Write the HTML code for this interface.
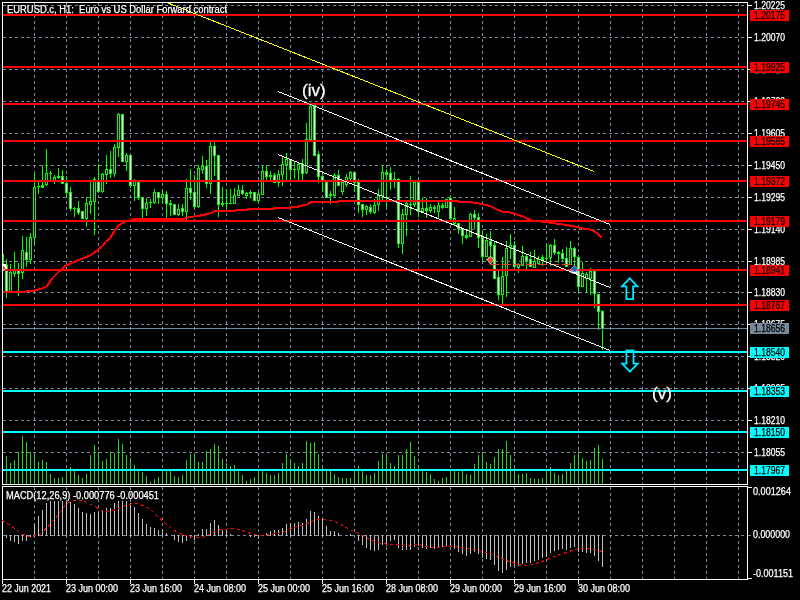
<!DOCTYPE html>
<html><head><meta charset="utf-8"><title>EURUSD.c H1</title>
<style>
html,body{margin:0;padding:0;background:#000;}
body{width:800px;height:600px;overflow:hidden;position:relative;font-family:"Liberation Sans",sans-serif;}
svg{position:absolute;left:0;top:0;display:block}
svg text{white-space:pre;font-family:"Liberation Sans",sans-serif;font-size:10px;}
svg text.big{font-size:17px;stroke:#fff;stroke-width:0.3px;}
svg text.w{stroke:#fff;stroke-width:0.25px;}
svg text.k{stroke:#000;stroke-width:0.25px;}
</style></head><body>
<svg width="800" height="600" viewBox="0 0 800 600" shape-rendering="crispEdges">
<rect width="800" height="600" fill="#000"/>
<g stroke="#778899" stroke-width="1" stroke-dasharray="3 3" fill="none">
<path d="M34.5 3V484M34.5 487V579"/>
<path d="M66.5 3V484M66.5 487V579"/>
<path d="M98.5 3V484M98.5 487V579"/>
<path d="M130.5 3V484M130.5 487V579"/>
<path d="M162.5 3V484M162.5 487V579"/>
<path d="M194.5 3V484M194.5 487V579"/>
<path d="M226.5 3V484M226.5 487V579"/>
<path d="M258.5 3V484M258.5 487V579"/>
<path d="M290.5 3V484M290.5 487V579"/>
<path d="M322.5 3V484M322.5 487V579"/>
<path d="M354.5 3V484M354.5 487V579"/>
<path d="M386.5 3V484M386.5 487V579"/>
<path d="M418.5 3V484M418.5 487V579"/>
<path d="M450.5 3V484M450.5 487V579"/>
<path d="M482.5 3V484M482.5 487V579"/>
<path d="M514.5 3V484M514.5 487V579"/>
<path d="M546.5 3V484M546.5 487V579"/>
<path d="M578.5 3V484M578.5 487V579"/>
<path d="M610.5 3V484M610.5 487V579"/>
<path d="M642.5 3V484M642.5 487V579"/>
<path d="M674.5 3V484M674.5 487V579"/>
<path d="M706.5 3V484M706.5 487V579"/>
<path d="M738.5 3V484M738.5 487V579"/>
<path d="M3 5.5H747"/>
<path d="M3 37.5H747"/>
<path d="M3 69.5H747"/>
<path d="M3 101.5H747"/>
<path d="M3 133.5H747"/>
<path d="M3 165.5H747"/>
<path d="M3 197.5H747"/>
<path d="M3 229.5H747"/>
<path d="M3 261.5H747"/>
<path d="M3 292.5H747"/>
<path d="M3 324.5H747"/>
<path d="M3 356.5H747"/>
<path d="M3 388.5H747"/>
<path d="M3 420.5H747"/>
<path d="M3 452.5H747"/>
<path d="M3 535.5H747"/>
</g>
<g fill="#32cd32">
<rect x="6" y="456" width="1" height="28" fill="#32cd32"/>
<rect x="10" y="463" width="1" height="21" fill="#32cd32"/>
<rect x="14" y="460" width="1" height="24" fill="#32cd32"/>
<rect x="18" y="452" width="1" height="32" fill="#32cd32"/>
<rect x="22" y="436" width="1" height="48" fill="#32cd32"/>
<rect x="26" y="442" width="1" height="42" fill="#32cd32"/>
<rect x="30" y="452" width="1" height="32" fill="#32cd32"/>
<rect x="34" y="454" width="1" height="30" fill="#32cd32"/>
<rect x="38" y="462" width="1" height="22" fill="#32cd32"/>
<rect x="42" y="460" width="1" height="24" fill="#32cd32"/>
<rect x="46" y="462" width="1" height="22" fill="#32cd32"/>
<rect x="50" y="474" width="1" height="10" fill="#32cd32"/>
<rect x="54" y="478" width="1" height="6" fill="#32cd32"/>
<rect x="58" y="478" width="1" height="6" fill="#32cd32"/>
<rect x="62" y="477" width="1" height="7" fill="#32cd32"/>
<rect x="66" y="471" width="1" height="13" fill="#32cd32"/>
<rect x="70" y="467" width="1" height="17" fill="#32cd32"/>
<rect x="74" y="471" width="1" height="13" fill="#32cd32"/>
<rect x="78" y="475" width="1" height="9" fill="#32cd32"/>
<rect x="82" y="478" width="1" height="6" fill="#32cd32"/>
<rect x="86" y="474" width="1" height="10" fill="#32cd32"/>
<rect x="90" y="455" width="1" height="29" fill="#32cd32"/>
<rect x="94" y="445" width="1" height="39" fill="#32cd32"/>
<rect x="98" y="452" width="1" height="32" fill="#32cd32"/>
<rect x="102" y="461" width="1" height="23" fill="#32cd32"/>
<rect x="106" y="459" width="1" height="25" fill="#32cd32"/>
<rect x="110" y="452" width="1" height="32" fill="#32cd32"/>
<rect x="114" y="453" width="1" height="31" fill="#32cd32"/>
<rect x="118" y="439" width="1" height="45" fill="#32cd32"/>
<rect x="122" y="444" width="1" height="40" fill="#32cd32"/>
<rect x="126" y="455" width="1" height="29" fill="#32cd32"/>
<rect x="130" y="458" width="1" height="26" fill="#32cd32"/>
<rect x="134" y="465" width="1" height="19" fill="#32cd32"/>
<rect x="138" y="470" width="1" height="14" fill="#32cd32"/>
<rect x="142" y="472" width="1" height="12" fill="#32cd32"/>
<rect x="146" y="476" width="1" height="8" fill="#32cd32"/>
<rect x="150" y="482" width="1" height="2" fill="#32cd32"/>
<rect x="154" y="479" width="1" height="5" fill="#32cd32"/>
<rect x="158" y="477" width="1" height="7" fill="#32cd32"/>
<rect x="162" y="470" width="1" height="14" fill="#32cd32"/>
<rect x="166" y="470" width="1" height="14" fill="#32cd32"/>
<rect x="170" y="470" width="1" height="14" fill="#32cd32"/>
<rect x="174" y="476" width="1" height="8" fill="#32cd32"/>
<rect x="178" y="477" width="1" height="7" fill="#32cd32"/>
<rect x="182" y="475" width="1" height="9" fill="#32cd32"/>
<rect x="186" y="460" width="1" height="24" fill="#32cd32"/>
<rect x="190" y="454" width="1" height="30" fill="#32cd32"/>
<rect x="194" y="454" width="1" height="30" fill="#32cd32"/>
<rect x="198" y="462" width="1" height="22" fill="#32cd32"/>
<rect x="202" y="462" width="1" height="22" fill="#32cd32"/>
<rect x="206" y="451" width="1" height="33" fill="#32cd32"/>
<rect x="210" y="449" width="1" height="35" fill="#32cd32"/>
<rect x="214" y="444" width="1" height="40" fill="#32cd32"/>
<rect x="218" y="446" width="1" height="38" fill="#32cd32"/>
<rect x="222" y="459" width="1" height="25" fill="#32cd32"/>
<rect x="226" y="463" width="1" height="21" fill="#32cd32"/>
<rect x="230" y="466" width="1" height="18" fill="#32cd32"/>
<rect x="234" y="465" width="1" height="19" fill="#32cd32"/>
<rect x="238" y="470" width="1" height="14" fill="#32cd32"/>
<rect x="242" y="475" width="1" height="9" fill="#32cd32"/>
<rect x="246" y="481" width="1" height="3" fill="#32cd32"/>
<rect x="250" y="479" width="1" height="5" fill="#32cd32"/>
<rect x="254" y="477" width="1" height="7" fill="#32cd32"/>
<rect x="258" y="470" width="1" height="14" fill="#32cd32"/>
<rect x="262" y="470" width="1" height="14" fill="#32cd32"/>
<rect x="266" y="473" width="1" height="11" fill="#32cd32"/>
<rect x="270" y="475" width="1" height="9" fill="#32cd32"/>
<rect x="274" y="475" width="1" height="9" fill="#32cd32"/>
<rect x="278" y="473" width="1" height="11" fill="#32cd32"/>
<rect x="282" y="463" width="1" height="21" fill="#32cd32"/>
<rect x="286" y="454" width="1" height="30" fill="#32cd32"/>
<rect x="290" y="459" width="1" height="25" fill="#32cd32"/>
<rect x="294" y="463" width="1" height="21" fill="#32cd32"/>
<rect x="298" y="466" width="1" height="18" fill="#32cd32"/>
<rect x="302" y="463" width="1" height="21" fill="#32cd32"/>
<rect x="306" y="441" width="1" height="43" fill="#32cd32"/>
<rect x="310" y="443" width="1" height="41" fill="#32cd32"/>
<rect x="314" y="442" width="1" height="42" fill="#32cd32"/>
<rect x="318" y="454" width="1" height="30" fill="#32cd32"/>
<rect x="322" y="467" width="1" height="17" fill="#32cd32"/>
<rect x="326" y="470" width="1" height="14" fill="#32cd32"/>
<rect x="330" y="470" width="1" height="14" fill="#32cd32"/>
<rect x="334" y="474" width="1" height="10" fill="#32cd32"/>
<rect x="338" y="477" width="1" height="7" fill="#32cd32"/>
<rect x="342" y="478" width="1" height="6" fill="#32cd32"/>
<rect x="346" y="478" width="1" height="6" fill="#32cd32"/>
<rect x="350" y="478" width="1" height="6" fill="#32cd32"/>
<rect x="354" y="470" width="1" height="14" fill="#32cd32"/>
<rect x="358" y="466" width="1" height="18" fill="#32cd32"/>
<rect x="362" y="470" width="1" height="14" fill="#32cd32"/>
<rect x="366" y="475" width="1" height="9" fill="#32cd32"/>
<rect x="370" y="475" width="1" height="9" fill="#32cd32"/>
<rect x="374" y="473" width="1" height="11" fill="#32cd32"/>
<rect x="378" y="461" width="1" height="23" fill="#32cd32"/>
<rect x="382" y="454" width="1" height="30" fill="#32cd32"/>
<rect x="386" y="456" width="1" height="28" fill="#32cd32"/>
<rect x="390" y="463" width="1" height="21" fill="#32cd32"/>
<rect x="394" y="466" width="1" height="18" fill="#32cd32"/>
<rect x="398" y="455" width="1" height="29" fill="#32cd32"/>
<rect x="402" y="455" width="1" height="29" fill="#32cd32"/>
<rect x="406" y="449" width="1" height="35" fill="#32cd32"/>
<rect x="410" y="442" width="1" height="42" fill="#32cd32"/>
<rect x="414" y="456" width="1" height="28" fill="#32cd32"/>
<rect x="418" y="465" width="1" height="19" fill="#32cd32"/>
<rect x="422" y="470" width="1" height="14" fill="#32cd32"/>
<rect x="426" y="472" width="1" height="12" fill="#32cd32"/>
<rect x="430" y="474" width="1" height="10" fill="#32cd32"/>
<rect x="434" y="479" width="1" height="5" fill="#32cd32"/>
<rect x="438" y="481" width="1" height="3" fill="#32cd32"/>
<rect x="442" y="478" width="1" height="6" fill="#32cd32"/>
<rect x="446" y="477" width="1" height="7" fill="#32cd32"/>
<rect x="450" y="470" width="1" height="14" fill="#32cd32"/>
<rect x="454" y="470" width="1" height="14" fill="#32cd32"/>
<rect x="458" y="472" width="1" height="12" fill="#32cd32"/>
<rect x="462" y="471" width="1" height="13" fill="#32cd32"/>
<rect x="466" y="474" width="1" height="10" fill="#32cd32"/>
<rect x="470" y="475" width="1" height="9" fill="#32cd32"/>
<rect x="474" y="464" width="1" height="20" fill="#32cd32"/>
<rect x="478" y="455" width="1" height="29" fill="#32cd32"/>
<rect x="482" y="452" width="1" height="32" fill="#32cd32"/>
<rect x="486" y="462" width="1" height="22" fill="#32cd32"/>
<rect x="490" y="464" width="1" height="20" fill="#32cd32"/>
<rect x="494" y="457" width="1" height="27" fill="#32cd32"/>
<rect x="498" y="449" width="1" height="35" fill="#32cd32"/>
<rect x="502" y="449" width="1" height="35" fill="#32cd32"/>
<rect x="506" y="441" width="1" height="43" fill="#32cd32"/>
<rect x="510" y="455" width="1" height="29" fill="#32cd32"/>
<rect x="514" y="467" width="1" height="17" fill="#32cd32"/>
<rect x="518" y="474" width="1" height="10" fill="#32cd32"/>
<rect x="522" y="474" width="1" height="10" fill="#32cd32"/>
<rect x="526" y="473" width="1" height="11" fill="#32cd32"/>
<rect x="530" y="478" width="1" height="6" fill="#32cd32"/>
<rect x="534" y="479" width="1" height="5" fill="#32cd32"/>
<rect x="538" y="479" width="1" height="5" fill="#32cd32"/>
<rect x="542" y="478" width="1" height="6" fill="#32cd32"/>
<rect x="546" y="470" width="1" height="14" fill="#32cd32"/>
<rect x="550" y="467" width="1" height="17" fill="#32cd32"/>
<rect x="554" y="473" width="1" height="11" fill="#32cd32"/>
<rect x="558" y="475" width="1" height="9" fill="#32cd32"/>
<rect x="562" y="474" width="1" height="10" fill="#32cd32"/>
<rect x="566" y="470" width="1" height="14" fill="#32cd32"/>
<rect x="570" y="463" width="1" height="21" fill="#32cd32"/>
<rect x="574" y="455" width="1" height="29" fill="#32cd32"/>
<rect x="578" y="451" width="1" height="33" fill="#32cd32"/>
<rect x="582" y="458" width="1" height="26" fill="#32cd32"/>
<rect x="586" y="461" width="1" height="23" fill="#32cd32"/>
<rect x="590" y="460" width="1" height="24" fill="#32cd32"/>
<rect x="594" y="448" width="1" height="36" fill="#32cd32"/>
<rect x="598" y="445" width="1" height="39" fill="#32cd32"/>
<rect x="602" y="459" width="1" height="25" fill="#32cd32"/>
</g>
<rect x="3" y="254" width="1" height="15" fill="#00ff00"/>
<rect x="6" y="259" width="1" height="39" fill="#00ff00"/>
<rect x="5" y="265" width="3" height="27" fill="#00ff00"/>
<rect x="6" y="266" width="1" height="25" fill="#fff"/>
<rect x="10" y="264" width="1" height="28" fill="#00ff00"/>
<rect x="9" y="272" width="3" height="20" fill="#00ff00"/>
<rect x="10" y="273" width="1" height="18" fill="#000"/>
<rect x="14" y="252" width="1" height="25" fill="#00ff00"/>
<rect x="13" y="270" width="3" height="4" fill="#00ff00"/>
<rect x="14" y="271" width="1" height="2" fill="#000"/>
<rect x="18" y="263" width="1" height="33" fill="#00ff00"/>
<rect x="17" y="270" width="3" height="4" fill="#00ff00"/>
<rect x="18" y="271" width="1" height="2" fill="#fff"/>
<rect x="22" y="236" width="1" height="43" fill="#00ff00"/>
<rect x="21" y="250" width="3" height="23" fill="#00ff00"/>
<rect x="22" y="251" width="1" height="21" fill="#000"/>
<rect x="26" y="237" width="1" height="30" fill="#00ff00"/>
<rect x="25" y="252" width="3" height="8" fill="#00ff00"/>
<rect x="26" y="253" width="1" height="6" fill="#fff"/>
<rect x="30" y="233" width="1" height="31" fill="#00ff00"/>
<rect x="29" y="237" width="3" height="23" fill="#00ff00"/>
<rect x="30" y="238" width="1" height="21" fill="#000"/>
<rect x="34" y="173" width="1" height="71" fill="#00ff00"/>
<rect x="33" y="187" width="3" height="51" fill="#00ff00"/>
<rect x="34" y="188" width="1" height="49" fill="#000"/>
<rect x="38" y="182" width="1" height="12" fill="#00ff00"/>
<rect x="37" y="186" width="3" height="1" fill="#00ff00"/>
<rect x="42" y="165" width="1" height="23" fill="#00ff00"/>
<rect x="41" y="185" width="3" height="3" fill="#00ff00"/>
<rect x="46" y="149" width="1" height="37" fill="#00ff00"/>
<rect x="45" y="173" width="3" height="12" fill="#00ff00"/>
<rect x="46" y="174" width="1" height="10" fill="#000"/>
<rect x="50" y="171" width="1" height="10" fill="#00ff00"/>
<rect x="49" y="173" width="3" height="1" fill="#00ff00"/>
<rect x="54" y="175" width="1" height="9" fill="#00ff00"/>
<rect x="53" y="177" width="3" height="4" fill="#00ff00"/>
<rect x="54" y="178" width="1" height="2" fill="#000"/>
<rect x="58" y="168" width="1" height="11" fill="#00ff00"/>
<rect x="57" y="176" width="3" height="2" fill="#00ff00"/>
<rect x="62" y="170" width="1" height="14" fill="#00ff00"/>
<rect x="61" y="176" width="3" height="8" fill="#00ff00"/>
<rect x="62" y="177" width="1" height="6" fill="#fff"/>
<rect x="66" y="176" width="1" height="21" fill="#00ff00"/>
<rect x="65" y="183" width="3" height="10" fill="#00ff00"/>
<rect x="66" y="184" width="1" height="8" fill="#fff"/>
<rect x="70" y="187" width="1" height="24" fill="#00ff00"/>
<rect x="69" y="192" width="3" height="17" fill="#00ff00"/>
<rect x="70" y="193" width="1" height="15" fill="#fff"/>
<rect x="74" y="207" width="1" height="10" fill="#00ff00"/>
<rect x="73" y="208" width="3" height="1" fill="#00ff00"/>
<rect x="78" y="201" width="1" height="14" fill="#00ff00"/>
<rect x="77" y="208" width="3" height="5" fill="#00ff00"/>
<rect x="78" y="209" width="1" height="3" fill="#fff"/>
<rect x="82" y="211" width="1" height="8" fill="#00ff00"/>
<rect x="81" y="211" width="3" height="8" fill="#00ff00"/>
<rect x="82" y="212" width="1" height="6" fill="#fff"/>
<rect x="86" y="197" width="1" height="30" fill="#00ff00"/>
<rect x="85" y="203" width="3" height="16" fill="#00ff00"/>
<rect x="86" y="204" width="1" height="14" fill="#000"/>
<rect x="90" y="181" width="1" height="33" fill="#00ff00"/>
<rect x="89" y="201" width="3" height="4" fill="#00ff00"/>
<rect x="90" y="202" width="1" height="2" fill="#000"/>
<rect x="94" y="177" width="1" height="58" fill="#00ff00"/>
<rect x="93" y="179" width="3" height="23" fill="#00ff00"/>
<rect x="94" y="180" width="1" height="21" fill="#000"/>
<rect x="98" y="164" width="1" height="29" fill="#00ff00"/>
<rect x="97" y="180" width="3" height="12" fill="#00ff00"/>
<rect x="98" y="181" width="1" height="10" fill="#fff"/>
<rect x="102" y="173" width="1" height="20" fill="#00ff00"/>
<rect x="101" y="174" width="3" height="18" fill="#00ff00"/>
<rect x="102" y="175" width="1" height="16" fill="#000"/>
<rect x="106" y="155" width="1" height="29" fill="#00ff00"/>
<rect x="105" y="169" width="3" height="6" fill="#00ff00"/>
<rect x="106" y="170" width="1" height="4" fill="#000"/>
<rect x="110" y="151" width="1" height="27" fill="#00ff00"/>
<rect x="109" y="169" width="3" height="5" fill="#00ff00"/>
<rect x="110" y="170" width="1" height="3" fill="#fff"/>
<rect x="114" y="144" width="1" height="33" fill="#00ff00"/>
<rect x="113" y="147" width="3" height="27" fill="#00ff00"/>
<rect x="114" y="148" width="1" height="25" fill="#000"/>
<rect x="118" y="113" width="1" height="44" fill="#00ff00"/>
<rect x="117" y="114" width="3" height="34" fill="#00ff00"/>
<rect x="118" y="115" width="1" height="32" fill="#000"/>
<rect x="122" y="114" width="1" height="48" fill="#00ff00"/>
<rect x="121" y="114" width="3" height="48" fill="#00ff00"/>
<rect x="122" y="115" width="1" height="46" fill="#fff"/>
<rect x="126" y="153" width="1" height="18" fill="#00ff00"/>
<rect x="125" y="155" width="3" height="7" fill="#00ff00"/>
<rect x="126" y="156" width="1" height="5" fill="#000"/>
<rect x="130" y="155" width="1" height="33" fill="#00ff00"/>
<rect x="129" y="155" width="3" height="31" fill="#00ff00"/>
<rect x="130" y="156" width="1" height="29" fill="#fff"/>
<rect x="134" y="179" width="1" height="22" fill="#00ff00"/>
<rect x="133" y="181" width="3" height="5" fill="#00ff00"/>
<rect x="134" y="182" width="1" height="3" fill="#000"/>
<rect x="138" y="181" width="1" height="19" fill="#00ff00"/>
<rect x="137" y="182" width="3" height="16" fill="#00ff00"/>
<rect x="138" y="183" width="1" height="14" fill="#fff"/>
<rect x="142" y="197" width="1" height="21" fill="#00ff00"/>
<rect x="141" y="197" width="3" height="12" fill="#00ff00"/>
<rect x="142" y="198" width="1" height="10" fill="#fff"/>
<rect x="146" y="198" width="1" height="18" fill="#00ff00"/>
<rect x="145" y="203" width="3" height="6" fill="#00ff00"/>
<rect x="146" y="204" width="1" height="4" fill="#000"/>
<rect x="150" y="199" width="1" height="9" fill="#00ff00"/>
<rect x="149" y="202" width="3" height="1" fill="#00ff00"/>
<rect x="154" y="189" width="1" height="15" fill="#00ff00"/>
<rect x="153" y="192" width="3" height="11" fill="#00ff00"/>
<rect x="154" y="193" width="1" height="9" fill="#000"/>
<rect x="158" y="192" width="1" height="12" fill="#00ff00"/>
<rect x="157" y="192" width="3" height="6" fill="#00ff00"/>
<rect x="158" y="193" width="1" height="4" fill="#fff"/>
<rect x="162" y="190" width="1" height="13" fill="#00ff00"/>
<rect x="161" y="194" width="3" height="4" fill="#00ff00"/>
<rect x="162" y="195" width="1" height="2" fill="#000"/>
<rect x="166" y="191" width="1" height="27" fill="#00ff00"/>
<rect x="165" y="194" width="3" height="10" fill="#00ff00"/>
<rect x="166" y="195" width="1" height="8" fill="#fff"/>
<rect x="170" y="200" width="1" height="16" fill="#00ff00"/>
<rect x="169" y="203" width="3" height="2" fill="#00ff00"/>
<rect x="174" y="204" width="1" height="11" fill="#00ff00"/>
<rect x="173" y="204" width="3" height="11" fill="#00ff00"/>
<rect x="174" y="205" width="1" height="9" fill="#fff"/>
<rect x="178" y="204" width="1" height="12" fill="#00ff00"/>
<rect x="177" y="209" width="3" height="6" fill="#00ff00"/>
<rect x="178" y="210" width="1" height="4" fill="#000"/>
<rect x="182" y="204" width="1" height="12" fill="#00ff00"/>
<rect x="181" y="208" width="3" height="4" fill="#00ff00"/>
<rect x="182" y="209" width="1" height="2" fill="#fff"/>
<rect x="186" y="179" width="1" height="41" fill="#00ff00"/>
<rect x="185" y="188" width="3" height="24" fill="#00ff00"/>
<rect x="186" y="189" width="1" height="22" fill="#000"/>
<rect x="190" y="169" width="1" height="31" fill="#00ff00"/>
<rect x="189" y="188" width="3" height="5" fill="#00ff00"/>
<rect x="190" y="189" width="1" height="3" fill="#fff"/>
<rect x="194" y="175" width="1" height="33" fill="#00ff00"/>
<rect x="193" y="192" width="3" height="15" fill="#00ff00"/>
<rect x="194" y="193" width="1" height="13" fill="#fff"/>
<rect x="198" y="165" width="1" height="43" fill="#00ff00"/>
<rect x="197" y="168" width="3" height="39" fill="#00ff00"/>
<rect x="198" y="169" width="1" height="37" fill="#000"/>
<rect x="202" y="156" width="1" height="18" fill="#00ff00"/>
<rect x="201" y="166" width="3" height="4" fill="#00ff00"/>
<rect x="202" y="167" width="1" height="2" fill="#000"/>
<rect x="206" y="160" width="1" height="28" fill="#00ff00"/>
<rect x="205" y="166" width="3" height="18" fill="#00ff00"/>
<rect x="206" y="167" width="1" height="16" fill="#fff"/>
<rect x="210" y="142" width="1" height="52" fill="#00ff00"/>
<rect x="209" y="146" width="3" height="38" fill="#00ff00"/>
<rect x="210" y="147" width="1" height="36" fill="#000"/>
<rect x="214" y="142" width="1" height="34" fill="#00ff00"/>
<rect x="213" y="146" width="3" height="10" fill="#00ff00"/>
<rect x="214" y="147" width="1" height="8" fill="#fff"/>
<rect x="218" y="155" width="1" height="62" fill="#00ff00"/>
<rect x="217" y="155" width="3" height="50" fill="#00ff00"/>
<rect x="218" y="156" width="1" height="48" fill="#fff"/>
<rect x="222" y="187" width="1" height="20" fill="#00ff00"/>
<rect x="221" y="203" width="3" height="2" fill="#00ff00"/>
<rect x="226" y="189" width="1" height="20" fill="#00ff00"/>
<rect x="225" y="203" width="3" height="1" fill="#00ff00"/>
<rect x="230" y="189" width="1" height="15" fill="#00ff00"/>
<rect x="229" y="203" width="3" height="1" fill="#00ff00"/>
<rect x="234" y="188" width="1" height="16" fill="#00ff00"/>
<rect x="233" y="195" width="3" height="9" fill="#00ff00"/>
<rect x="234" y="196" width="1" height="7" fill="#000"/>
<rect x="238" y="185" width="1" height="11" fill="#00ff00"/>
<rect x="237" y="190" width="3" height="6" fill="#00ff00"/>
<rect x="238" y="191" width="1" height="4" fill="#000"/>
<rect x="242" y="185" width="1" height="10" fill="#00ff00"/>
<rect x="241" y="190" width="3" height="4" fill="#00ff00"/>
<rect x="242" y="191" width="1" height="2" fill="#fff"/>
<rect x="246" y="192" width="1" height="7" fill="#00ff00"/>
<rect x="245" y="193" width="3" height="3" fill="#00ff00"/>
<rect x="246" y="194" width="1" height="1" fill="#000"/>
<rect x="250" y="190" width="1" height="8" fill="#00ff00"/>
<rect x="249" y="192" width="3" height="2" fill="#00ff00"/>
<rect x="254" y="192" width="1" height="9" fill="#00ff00"/>
<rect x="253" y="192" width="3" height="9" fill="#00ff00"/>
<rect x="254" y="193" width="1" height="7" fill="#fff"/>
<rect x="258" y="192" width="1" height="11" fill="#00ff00"/>
<rect x="257" y="194" width="3" height="7" fill="#00ff00"/>
<rect x="258" y="195" width="1" height="5" fill="#000"/>
<rect x="262" y="165" width="1" height="30" fill="#00ff00"/>
<rect x="261" y="171" width="3" height="24" fill="#00ff00"/>
<rect x="262" y="172" width="1" height="22" fill="#000"/>
<rect x="266" y="165" width="1" height="15" fill="#00ff00"/>
<rect x="265" y="171" width="3" height="6" fill="#00ff00"/>
<rect x="266" y="172" width="1" height="4" fill="#fff"/>
<rect x="270" y="171" width="1" height="9" fill="#00ff00"/>
<rect x="269" y="175" width="3" height="2" fill="#00ff00"/>
<rect x="274" y="173" width="1" height="10" fill="#00ff00"/>
<rect x="273" y="175" width="3" height="8" fill="#00ff00"/>
<rect x="274" y="176" width="1" height="6" fill="#fff"/>
<rect x="278" y="170" width="1" height="17" fill="#00ff00"/>
<rect x="277" y="174" width="3" height="9" fill="#00ff00"/>
<rect x="278" y="175" width="1" height="7" fill="#000"/>
<rect x="282" y="157" width="1" height="29" fill="#00ff00"/>
<rect x="281" y="164" width="3" height="11" fill="#00ff00"/>
<rect x="282" y="165" width="1" height="9" fill="#000"/>
<rect x="286" y="153" width="1" height="28" fill="#00ff00"/>
<rect x="285" y="159" width="3" height="6" fill="#00ff00"/>
<rect x="286" y="160" width="1" height="4" fill="#000"/>
<rect x="290" y="159" width="1" height="22" fill="#00ff00"/>
<rect x="289" y="159" width="3" height="11" fill="#00ff00"/>
<rect x="290" y="160" width="1" height="9" fill="#fff"/>
<rect x="294" y="161" width="1" height="18" fill="#00ff00"/>
<rect x="293" y="169" width="3" height="1" fill="#00ff00"/>
<rect x="298" y="163" width="1" height="17" fill="#00ff00"/>
<rect x="297" y="164" width="3" height="6" fill="#00ff00"/>
<rect x="298" y="165" width="1" height="4" fill="#000"/>
<rect x="302" y="159" width="1" height="21" fill="#00ff00"/>
<rect x="301" y="164" width="3" height="10" fill="#00ff00"/>
<rect x="302" y="165" width="1" height="8" fill="#fff"/>
<rect x="306" y="123" width="1" height="51" fill="#00ff00"/>
<rect x="305" y="139" width="3" height="34" fill="#00ff00"/>
<rect x="306" y="140" width="1" height="32" fill="#000"/>
<rect x="310" y="103" width="1" height="37" fill="#00ff00"/>
<rect x="309" y="106" width="3" height="34" fill="#00ff00"/>
<rect x="310" y="107" width="1" height="32" fill="#000"/>
<rect x="314" y="105" width="1" height="51" fill="#00ff00"/>
<rect x="313" y="105" width="3" height="51" fill="#00ff00"/>
<rect x="314" y="106" width="1" height="49" fill="#fff"/>
<rect x="318" y="151" width="1" height="32" fill="#00ff00"/>
<rect x="317" y="154" width="3" height="23" fill="#00ff00"/>
<rect x="318" y="155" width="1" height="21" fill="#fff"/>
<rect x="322" y="173" width="1" height="19" fill="#00ff00"/>
<rect x="321" y="176" width="3" height="6" fill="#00ff00"/>
<rect x="322" y="177" width="1" height="4" fill="#fff"/>
<rect x="326" y="181" width="1" height="17" fill="#00ff00"/>
<rect x="325" y="182" width="3" height="16" fill="#00ff00"/>
<rect x="326" y="183" width="1" height="14" fill="#fff"/>
<rect x="330" y="191" width="1" height="13" fill="#00ff00"/>
<rect x="329" y="194" width="3" height="2" fill="#00ff00"/>
<rect x="334" y="173" width="1" height="24" fill="#00ff00"/>
<rect x="333" y="175" width="3" height="21" fill="#00ff00"/>
<rect x="334" y="176" width="1" height="19" fill="#000"/>
<rect x="338" y="170" width="1" height="16" fill="#00ff00"/>
<rect x="337" y="175" width="3" height="11" fill="#00ff00"/>
<rect x="338" y="176" width="1" height="9" fill="#fff"/>
<rect x="342" y="181" width="1" height="14" fill="#00ff00"/>
<rect x="341" y="182" width="3" height="10" fill="#00ff00"/>
<rect x="342" y="183" width="1" height="8" fill="#000"/>
<rect x="346" y="174" width="1" height="13" fill="#00ff00"/>
<rect x="345" y="177" width="3" height="8" fill="#00ff00"/>
<rect x="346" y="178" width="1" height="6" fill="#000"/>
<rect x="350" y="171" width="1" height="9" fill="#00ff00"/>
<rect x="349" y="172" width="3" height="7" fill="#00ff00"/>
<rect x="350" y="173" width="1" height="5" fill="#000"/>
<rect x="354" y="172" width="1" height="20" fill="#00ff00"/>
<rect x="353" y="172" width="3" height="11" fill="#00ff00"/>
<rect x="354" y="173" width="1" height="9" fill="#fff"/>
<rect x="358" y="179" width="1" height="34" fill="#00ff00"/>
<rect x="357" y="182" width="3" height="23" fill="#00ff00"/>
<rect x="358" y="183" width="1" height="21" fill="#fff"/>
<rect x="362" y="204" width="1" height="13" fill="#00ff00"/>
<rect x="361" y="204" width="3" height="6" fill="#00ff00"/>
<rect x="362" y="205" width="1" height="4" fill="#fff"/>
<rect x="366" y="205" width="1" height="10" fill="#00ff00"/>
<rect x="365" y="206" width="3" height="4" fill="#00ff00"/>
<rect x="366" y="207" width="1" height="2" fill="#000"/>
<rect x="370" y="204" width="1" height="10" fill="#00ff00"/>
<rect x="369" y="207" width="3" height="5" fill="#00ff00"/>
<rect x="370" y="208" width="1" height="3" fill="#fff"/>
<rect x="374" y="199" width="1" height="15" fill="#00ff00"/>
<rect x="373" y="205" width="3" height="8" fill="#00ff00"/>
<rect x="374" y="206" width="1" height="6" fill="#000"/>
<rect x="378" y="189" width="1" height="22" fill="#00ff00"/>
<rect x="377" y="195" width="3" height="10" fill="#00ff00"/>
<rect x="378" y="196" width="1" height="8" fill="#000"/>
<rect x="382" y="165" width="1" height="35" fill="#00ff00"/>
<rect x="381" y="172" width="3" height="24" fill="#00ff00"/>
<rect x="382" y="173" width="1" height="22" fill="#000"/>
<rect x="386" y="169" width="1" height="38" fill="#00ff00"/>
<rect x="385" y="172" width="3" height="3" fill="#00ff00"/>
<rect x="390" y="167" width="1" height="23" fill="#00ff00"/>
<rect x="389" y="173" width="3" height="9" fill="#00ff00"/>
<rect x="390" y="174" width="1" height="7" fill="#fff"/>
<rect x="394" y="172" width="1" height="16" fill="#00ff00"/>
<rect x="393" y="179" width="3" height="1" fill="#00ff00"/>
<rect x="398" y="178" width="1" height="70" fill="#00ff00"/>
<rect x="397" y="179" width="3" height="65" fill="#00ff00"/>
<rect x="398" y="180" width="1" height="63" fill="#fff"/>
<rect x="402" y="209" width="1" height="45" fill="#00ff00"/>
<rect x="401" y="214" width="3" height="30" fill="#00ff00"/>
<rect x="402" y="215" width="1" height="28" fill="#000"/>
<rect x="406" y="202" width="1" height="34" fill="#00ff00"/>
<rect x="405" y="203" width="3" height="12" fill="#00ff00"/>
<rect x="406" y="204" width="1" height="10" fill="#000"/>
<rect x="410" y="176" width="1" height="39" fill="#00ff00"/>
<rect x="409" y="204" width="3" height="1" fill="#00ff00"/>
<rect x="414" y="181" width="1" height="26" fill="#00ff00"/>
<rect x="413" y="182" width="3" height="23" fill="#00ff00"/>
<rect x="414" y="183" width="1" height="21" fill="#000"/>
<rect x="418" y="179" width="1" height="38" fill="#00ff00"/>
<rect x="417" y="182" width="3" height="30" fill="#00ff00"/>
<rect x="418" y="183" width="1" height="28" fill="#fff"/>
<rect x="422" y="198" width="1" height="15" fill="#00ff00"/>
<rect x="421" y="208" width="3" height="4" fill="#00ff00"/>
<rect x="422" y="209" width="1" height="2" fill="#000"/>
<rect x="426" y="198" width="1" height="20" fill="#00ff00"/>
<rect x="425" y="208" width="3" height="3" fill="#00ff00"/>
<rect x="430" y="204" width="1" height="9" fill="#00ff00"/>
<rect x="429" y="207" width="3" height="4" fill="#00ff00"/>
<rect x="430" y="208" width="1" height="2" fill="#000"/>
<rect x="434" y="205" width="1" height="8" fill="#00ff00"/>
<rect x="433" y="207" width="3" height="2" fill="#00ff00"/>
<rect x="438" y="202" width="1" height="17" fill="#00ff00"/>
<rect x="437" y="205" width="3" height="7" fill="#00ff00"/>
<rect x="438" y="206" width="1" height="5" fill="#000"/>
<rect x="442" y="203" width="1" height="6" fill="#00ff00"/>
<rect x="441" y="205" width="3" height="3" fill="#00ff00"/>
<rect x="446" y="199" width="1" height="9" fill="#00ff00"/>
<rect x="445" y="199" width="3" height="9" fill="#00ff00"/>
<rect x="446" y="200" width="1" height="7" fill="#000"/>
<rect x="450" y="195" width="1" height="25" fill="#00ff00"/>
<rect x="449" y="198" width="3" height="21" fill="#00ff00"/>
<rect x="450" y="199" width="1" height="19" fill="#fff"/>
<rect x="454" y="207" width="1" height="18" fill="#00ff00"/>
<rect x="453" y="218" width="3" height="6" fill="#00ff00"/>
<rect x="454" y="219" width="1" height="4" fill="#000"/>
<rect x="458" y="223" width="1" height="11" fill="#00ff00"/>
<rect x="457" y="223" width="3" height="6" fill="#00ff00"/>
<rect x="458" y="224" width="1" height="4" fill="#fff"/>
<rect x="462" y="228" width="1" height="16" fill="#00ff00"/>
<rect x="461" y="228" width="3" height="8" fill="#00ff00"/>
<rect x="462" y="229" width="1" height="6" fill="#fff"/>
<rect x="466" y="229" width="1" height="10" fill="#00ff00"/>
<rect x="465" y="235" width="3" height="3" fill="#00ff00"/>
<rect x="470" y="213" width="1" height="24" fill="#00ff00"/>
<rect x="469" y="214" width="3" height="23" fill="#00ff00"/>
<rect x="470" y="215" width="1" height="21" fill="#000"/>
<rect x="474" y="210" width="1" height="19" fill="#00ff00"/>
<rect x="473" y="214" width="3" height="4" fill="#00ff00"/>
<rect x="474" y="215" width="1" height="2" fill="#fff"/>
<rect x="478" y="213" width="1" height="35" fill="#00ff00"/>
<rect x="477" y="217" width="3" height="21" fill="#00ff00"/>
<rect x="478" y="218" width="1" height="19" fill="#fff"/>
<rect x="482" y="230" width="1" height="31" fill="#00ff00"/>
<rect x="481" y="237" width="3" height="20" fill="#00ff00"/>
<rect x="482" y="238" width="1" height="18" fill="#fff"/>
<rect x="486" y="234" width="1" height="23" fill="#00ff00"/>
<rect x="485" y="240" width="3" height="17" fill="#00ff00"/>
<rect x="486" y="241" width="1" height="15" fill="#000"/>
<rect x="490" y="231" width="1" height="26" fill="#00ff00"/>
<rect x="489" y="241" width="3" height="5" fill="#00ff00"/>
<rect x="490" y="242" width="1" height="3" fill="#fff"/>
<rect x="494" y="242" width="1" height="37" fill="#00ff00"/>
<rect x="493" y="245" width="3" height="34" fill="#00ff00"/>
<rect x="494" y="246" width="1" height="32" fill="#fff"/>
<rect x="498" y="271" width="1" height="29" fill="#00ff00"/>
<rect x="497" y="277" width="3" height="18" fill="#00ff00"/>
<rect x="498" y="278" width="1" height="16" fill="#fff"/>
<rect x="502" y="257" width="1" height="47" fill="#00ff00"/>
<rect x="501" y="276" width="3" height="19" fill="#00ff00"/>
<rect x="502" y="277" width="1" height="17" fill="#000"/>
<rect x="506" y="241" width="1" height="56" fill="#00ff00"/>
<rect x="505" y="248" width="3" height="28" fill="#00ff00"/>
<rect x="506" y="249" width="1" height="26" fill="#000"/>
<rect x="510" y="234" width="1" height="25" fill="#00ff00"/>
<rect x="509" y="245" width="3" height="3" fill="#00ff00"/>
<rect x="510" y="246" width="1" height="1" fill="#000"/>
<rect x="514" y="241" width="1" height="26" fill="#00ff00"/>
<rect x="513" y="245" width="3" height="22" fill="#00ff00"/>
<rect x="514" y="246" width="1" height="20" fill="#fff"/>
<rect x="518" y="263" width="1" height="10" fill="#00ff00"/>
<rect x="517" y="264" width="3" height="4" fill="#00ff00"/>
<rect x="518" y="265" width="1" height="2" fill="#000"/>
<rect x="522" y="246" width="1" height="20" fill="#00ff00"/>
<rect x="521" y="256" width="3" height="10" fill="#00ff00"/>
<rect x="522" y="257" width="1" height="8" fill="#000"/>
<rect x="526" y="255" width="1" height="14" fill="#00ff00"/>
<rect x="525" y="256" width="3" height="5" fill="#00ff00"/>
<rect x="526" y="257" width="1" height="3" fill="#fff"/>
<rect x="530" y="252" width="1" height="15" fill="#00ff00"/>
<rect x="529" y="259" width="3" height="8" fill="#00ff00"/>
<rect x="530" y="260" width="1" height="6" fill="#fff"/>
<rect x="534" y="250" width="1" height="18" fill="#00ff00"/>
<rect x="533" y="261" width="3" height="7" fill="#00ff00"/>
<rect x="534" y="262" width="1" height="5" fill="#000"/>
<rect x="538" y="256" width="1" height="9" fill="#00ff00"/>
<rect x="537" y="259" width="3" height="5" fill="#00ff00"/>
<rect x="538" y="260" width="1" height="3" fill="#000"/>
<rect x="542" y="255" width="1" height="11" fill="#00ff00"/>
<rect x="541" y="257" width="3" height="3" fill="#00ff00"/>
<rect x="546" y="243" width="1" height="19" fill="#00ff00"/>
<rect x="545" y="258" width="3" height="1" fill="#00ff00"/>
<rect x="550" y="244" width="1" height="22" fill="#00ff00"/>
<rect x="549" y="245" width="3" height="13" fill="#00ff00"/>
<rect x="550" y="246" width="1" height="11" fill="#000"/>
<rect x="554" y="239" width="1" height="16" fill="#00ff00"/>
<rect x="553" y="245" width="3" height="8" fill="#00ff00"/>
<rect x="554" y="246" width="1" height="6" fill="#fff"/>
<rect x="558" y="251" width="1" height="12" fill="#00ff00"/>
<rect x="557" y="252" width="3" height="2" fill="#00ff00"/>
<rect x="562" y="249" width="1" height="12" fill="#00ff00"/>
<rect x="561" y="253" width="3" height="6" fill="#00ff00"/>
<rect x="562" y="254" width="1" height="4" fill="#fff"/>
<rect x="566" y="247" width="1" height="20" fill="#00ff00"/>
<rect x="565" y="258" width="3" height="9" fill="#00ff00"/>
<rect x="566" y="259" width="1" height="7" fill="#fff"/>
<rect x="570" y="241" width="1" height="24" fill="#00ff00"/>
<rect x="569" y="248" width="3" height="17" fill="#00ff00"/>
<rect x="570" y="249" width="1" height="15" fill="#000"/>
<rect x="574" y="247" width="1" height="19" fill="#00ff00"/>
<rect x="573" y="248" width="3" height="9" fill="#00ff00"/>
<rect x="574" y="249" width="1" height="7" fill="#fff"/>
<rect x="578" y="255" width="1" height="36" fill="#00ff00"/>
<rect x="577" y="257" width="3" height="30" fill="#00ff00"/>
<rect x="578" y="258" width="1" height="28" fill="#fff"/>
<rect x="582" y="262" width="1" height="25" fill="#00ff00"/>
<rect x="581" y="273" width="3" height="14" fill="#00ff00"/>
<rect x="582" y="274" width="1" height="12" fill="#000"/>
<rect x="586" y="272" width="1" height="20" fill="#00ff00"/>
<rect x="585" y="274" width="3" height="5" fill="#00ff00"/>
<rect x="586" y="275" width="1" height="3" fill="#000"/>
<rect x="590" y="268" width="1" height="27" fill="#00ff00"/>
<rect x="589" y="271" width="3" height="8" fill="#00ff00"/>
<rect x="590" y="272" width="1" height="6" fill="#000"/>
<rect x="594" y="271" width="1" height="37" fill="#00ff00"/>
<rect x="593" y="271" width="3" height="23" fill="#00ff00"/>
<rect x="594" y="272" width="1" height="21" fill="#fff"/>
<rect x="598" y="294" width="1" height="36" fill="#00ff00"/>
<rect x="597" y="294" width="3" height="18" fill="#00ff00"/>
<rect x="598" y="295" width="1" height="16" fill="#fff"/>
<rect x="602" y="310" width="1" height="40" fill="#00ff00"/>
<rect x="601" y="311" width="3" height="18" fill="#00ff00"/>
<rect x="602" y="312" width="1" height="16" fill="#fff"/>
<polyline points="2,292 18,292 26,291.5 34,290.5 42,288.5 47,286 52,278.5 59,271.5 66,265.5 72,263 80,259.5 90,255.5 98,250 102,246.5 106,241.5 110,238 114,232 118,225.5 122,223.5 126,221.5 130,220.5 135,218.5 150,218.5 185,218.5 190,217 198,216 203,215 208,214 212,212.5 215,211 235,211 236,210 247,210 248,209 274,209 275,208 290,208 291,207 298,207 299,206 306,205 308,204 311,202 338,202 339,201 385,201 418,200.5 419,201 458,201 459,202 473,202.5 482,204 490,206 496,209 502,211.5 510,212.5 515,214 522,216 527,218.5 532,220.5 545,222 560,224 575,226.5 580,228 590,229.5 594,231 598,234 602,238" fill="none" stroke="#ff0000" stroke-width="2" stroke-linejoin="round" shape-rendering="crispEdges"/>
<rect x="3" y="14" width="744" height="2" fill="#ff0000"/>
<rect x="3" y="66" width="744" height="2" fill="#ff0000"/>
<rect x="3" y="103" width="744" height="2" fill="#ff0000"/>
<rect x="3" y="140" width="744" height="2" fill="#ff0000"/>
<rect x="3" y="180" width="744" height="2" fill="#ff0000"/>
<rect x="3" y="220" width="744" height="2" fill="#ff0000"/>
<rect x="3" y="269" width="744" height="2" fill="#ff0000"/>
<rect x="3" y="304" width="744" height="2" fill="#ff0000"/>
<rect x="3" y="351" width="744" height="2" fill="#00ffff"/>
<rect x="3" y="390" width="744" height="2" fill="#00ffff"/>
<rect x="3" y="431" width="744" height="2" fill="#00ffff"/>
<rect x="3" y="469" width="744" height="2" fill="#00ffff"/>
<rect x="3" y="328" width="744" height="1" fill="#778899"/>
<path d="M490 264.5H571" stroke="#e8431f" stroke-width="1" stroke-dasharray="9 3" fill="none"/>
<g stroke="#fff" stroke-width="1" fill="none" shape-rendering="crispEdges">
<path d="M278 91.5L610 224.5M278 154.5L610 287.5M278 217.5L610 350.5"/>
</g>
<path d="M168 3L594 171.5" stroke="#ffff00" stroke-width="1" fill="none" shape-rendering="crispEdges"/>
<path d="M3 264h3l1 3l-1 1l-3 3z" fill="#fff"/><path d="M3 265.5l3 2.5l-3 2.5z" fill="#e8431f"/>
<path d="M486.3 259h2.4v-2h3.6v2h2.4l-4.2 5z" fill="#e8431f" stroke="#fff" stroke-width="0.6" shape-rendering="auto"/>
<path d="M569.5 271.5h8v2.5h-3.5l-4.5-2z" fill="#fff" shape-rendering="auto"/>
<path d="M570.2 270.3h2.4v1.7h3.8v-1.7h2.4l-4.3-5.1z" fill="#1a5fb4" stroke="#fff" stroke-width="0.5" shape-rendering="auto"/>
<g stroke="#00e5ff" stroke-width="1.8" fill="none" shape-rendering="auto" stroke-linejoin="miter">
<path d="M629.7 278.4L637.4 286.3H633.1V299.1H626.4V286.3H622Z"/>
<path d="M626.4 350.5H633.5V363.7H637.6L629.9 371.6L622.2 363.7H626.4Z"/>
</g>
<rect x="2" y="2" width="746" height="1" fill="#fff"/>
<rect x="2" y="2" width="1" height="483" fill="#fff"/>
<rect x="2" y="484" width="746" height="1" fill="#fff"/>
<rect x="747" y="2" width="1" height="483" fill="#fff"/>
<rect x="2" y="486" width="746" height="1" fill="#fff"/>
<rect x="2" y="486" width="1" height="94" fill="#fff"/>
<rect x="2" y="579" width="746" height="1" fill="#fff"/>
<rect x="747" y="486" width="1" height="94" fill="#fff"/>
<rect x="748" y="5" width="4" height="1" fill="#fff"/>
<rect x="748" y="37" width="4" height="1" fill="#fff"/>
<rect x="748" y="69" width="4" height="1" fill="#fff"/>
<rect x="748" y="101" width="4" height="1" fill="#fff"/>
<rect x="748" y="133" width="4" height="1" fill="#fff"/>
<rect x="748" y="165" width="4" height="1" fill="#fff"/>
<rect x="748" y="197" width="4" height="1" fill="#fff"/>
<rect x="748" y="229" width="4" height="1" fill="#fff"/>
<rect x="748" y="261" width="4" height="1" fill="#fff"/>
<rect x="748" y="292" width="4" height="1" fill="#fff"/>
<rect x="748" y="324" width="4" height="1" fill="#fff"/>
<rect x="748" y="356" width="4" height="1" fill="#fff"/>
<rect x="748" y="388" width="4" height="1" fill="#fff"/>
<rect x="748" y="420" width="4" height="1" fill="#fff"/>
<rect x="748" y="452" width="4" height="1" fill="#fff"/>
<rect x="748" y="487" width="4" height="1" fill="#fff"/>
<rect x="748" y="535" width="3" height="1" fill="#778899"/>
<rect x="748" y="578" width="4" height="1" fill="#fff"/>
<rect x="2" y="580" width="1" height="4" fill="#fff"/>
<rect x="66" y="580" width="1" height="4" fill="#fff"/>
<rect x="130" y="580" width="1" height="4" fill="#fff"/>
<rect x="194" y="580" width="1" height="4" fill="#fff"/>
<rect x="258" y="580" width="1" height="4" fill="#fff"/>
<rect x="322" y="580" width="1" height="4" fill="#fff"/>
<rect x="386" y="580" width="1" height="4" fill="#fff"/>
<rect x="450" y="580" width="1" height="4" fill="#fff"/>
<rect x="514" y="580" width="1" height="4" fill="#fff"/>
<rect x="578" y="580" width="1" height="4" fill="#fff"/>
<rect x="6" y="535" width="1" height="3" fill="#c0c0c0"/>
<rect x="10" y="535" width="1" height="6" fill="#c0c0c0"/>
<rect x="14" y="535" width="1" height="7" fill="#c0c0c0"/>
<rect x="18" y="535" width="1" height="9" fill="#c0c0c0"/>
<rect x="22" y="535" width="1" height="6" fill="#c0c0c0"/>
<rect x="26" y="535" width="1" height="6" fill="#c0c0c0"/>
<rect x="30" y="535" width="1" height="2" fill="#c0c0c0"/>
<rect x="34" y="524" width="1" height="12" fill="#c0c0c0"/>
<rect x="38" y="516" width="1" height="20" fill="#c0c0c0"/>
<rect x="42" y="510" width="1" height="26" fill="#c0c0c0"/>
<rect x="46" y="503" width="1" height="33" fill="#c0c0c0"/>
<rect x="50" y="501" width="1" height="35" fill="#c0c0c0"/>
<rect x="54" y="501" width="1" height="35" fill="#c0c0c0"/>
<rect x="58" y="501" width="1" height="35" fill="#c0c0c0"/>
<rect x="62" y="501" width="1" height="35" fill="#c0c0c0"/>
<rect x="66" y="502" width="1" height="34" fill="#c0c0c0"/>
<rect x="70" y="502" width="1" height="34" fill="#c0c0c0"/>
<rect x="74" y="504" width="1" height="32" fill="#c0c0c0"/>
<rect x="78" y="508" width="1" height="28" fill="#c0c0c0"/>
<rect x="82" y="512" width="1" height="24" fill="#c0c0c0"/>
<rect x="86" y="513" width="1" height="23" fill="#c0c0c0"/>
<rect x="90" y="514" width="1" height="22" fill="#c0c0c0"/>
<rect x="94" y="512" width="1" height="24" fill="#c0c0c0"/>
<rect x="98" y="512" width="1" height="24" fill="#c0c0c0"/>
<rect x="102" y="510" width="1" height="26" fill="#c0c0c0"/>
<rect x="106" y="508" width="1" height="28" fill="#c0c0c0"/>
<rect x="110" y="508" width="1" height="28" fill="#c0c0c0"/>
<rect x="114" y="503" width="1" height="33" fill="#c0c0c0"/>
<rect x="118" y="501" width="1" height="35" fill="#c0c0c0"/>
<rect x="122" y="501" width="1" height="35" fill="#c0c0c0"/>
<rect x="126" y="501" width="1" height="35" fill="#c0c0c0"/>
<rect x="130" y="503" width="1" height="33" fill="#c0c0c0"/>
<rect x="134" y="507" width="1" height="29" fill="#c0c0c0"/>
<rect x="138" y="513" width="1" height="23" fill="#c0c0c0"/>
<rect x="142" y="519" width="1" height="17" fill="#c0c0c0"/>
<rect x="146" y="524" width="1" height="12" fill="#c0c0c0"/>
<rect x="150" y="527" width="1" height="9" fill="#c0c0c0"/>
<rect x="154" y="528" width="1" height="8" fill="#c0c0c0"/>
<rect x="158" y="530" width="1" height="6" fill="#c0c0c0"/>
<rect x="162" y="530" width="1" height="6" fill="#c0c0c0"/>
<rect x="166" y="533" width="1" height="3" fill="#c0c0c0"/>
<rect x="174" y="535" width="1" height="5" fill="#c0c0c0"/>
<rect x="178" y="535" width="1" height="7" fill="#c0c0c0"/>
<rect x="182" y="535" width="1" height="8" fill="#c0c0c0"/>
<rect x="186" y="535" width="1" height="6" fill="#c0c0c0"/>
<rect x="190" y="535" width="1" height="3" fill="#c0c0c0"/>
<rect x="194" y="535" width="1" height="5" fill="#c0c0c0"/>
<rect x="198" y="534" width="1" height="2" fill="#c0c0c0"/>
<rect x="202" y="529" width="1" height="7" fill="#c0c0c0"/>
<rect x="206" y="529" width="1" height="7" fill="#c0c0c0"/>
<rect x="210" y="523" width="1" height="13" fill="#c0c0c0"/>
<rect x="214" y="520" width="1" height="16" fill="#c0c0c0"/>
<rect x="218" y="525" width="1" height="11" fill="#c0c0c0"/>
<rect x="222" y="530" width="1" height="6" fill="#c0c0c0"/>
<rect x="226" y="530" width="1" height="6" fill="#c0c0c0"/>
<rect x="230" y="534" width="1" height="2" fill="#c0c0c0"/>
<rect x="250" y="535" width="1" height="2" fill="#c0c0c0"/>
<rect x="254" y="535" width="1" height="2" fill="#c0c0c0"/>
<rect x="258" y="535" width="1" height="4" fill="#c0c0c0"/>
<rect x="266" y="533" width="1" height="3" fill="#c0c0c0"/>
<rect x="270" y="531" width="1" height="5" fill="#c0c0c0"/>
<rect x="274" y="530" width="1" height="6" fill="#c0c0c0"/>
<rect x="278" y="530" width="1" height="6" fill="#c0c0c0"/>
<rect x="282" y="528" width="1" height="8" fill="#c0c0c0"/>
<rect x="286" y="524" width="1" height="12" fill="#c0c0c0"/>
<rect x="290" y="523" width="1" height="13" fill="#c0c0c0"/>
<rect x="294" y="523" width="1" height="13" fill="#c0c0c0"/>
<rect x="298" y="522" width="1" height="14" fill="#c0c0c0"/>
<rect x="302" y="523" width="1" height="13" fill="#c0c0c0"/>
<rect x="306" y="519" width="1" height="17" fill="#c0c0c0"/>
<rect x="310" y="511" width="1" height="25" fill="#c0c0c0"/>
<rect x="314" y="512" width="1" height="24" fill="#c0c0c0"/>
<rect x="318" y="516" width="1" height="20" fill="#c0c0c0"/>
<rect x="322" y="519" width="1" height="17" fill="#c0c0c0"/>
<rect x="326" y="526" width="1" height="10" fill="#c0c0c0"/>
<rect x="330" y="531" width="1" height="5" fill="#c0c0c0"/>
<rect x="334" y="531" width="1" height="5" fill="#c0c0c0"/>
<rect x="338" y="533" width="1" height="3" fill="#c0c0c0"/>
<rect x="350" y="534" width="1" height="2" fill="#c0c0c0"/>
<rect x="358" y="535" width="1" height="6" fill="#c0c0c0"/>
<rect x="362" y="535" width="1" height="10" fill="#c0c0c0"/>
<rect x="366" y="535" width="1" height="13" fill="#c0c0c0"/>
<rect x="370" y="535" width="1" height="15" fill="#c0c0c0"/>
<rect x="374" y="535" width="1" height="16" fill="#c0c0c0"/>
<rect x="378" y="535" width="1" height="15" fill="#c0c0c0"/>
<rect x="382" y="535" width="1" height="10" fill="#c0c0c0"/>
<rect x="386" y="535" width="1" height="11" fill="#c0c0c0"/>
<rect x="390" y="535" width="1" height="6" fill="#c0c0c0"/>
<rect x="394" y="535" width="1" height="5" fill="#c0c0c0"/>
<rect x="398" y="535" width="1" height="13" fill="#c0c0c0"/>
<rect x="402" y="535" width="1" height="15" fill="#c0c0c0"/>
<rect x="406" y="535" width="1" height="15" fill="#c0c0c0"/>
<rect x="410" y="535" width="1" height="15" fill="#c0c0c0"/>
<rect x="414" y="535" width="1" height="12" fill="#c0c0c0"/>
<rect x="418" y="535" width="1" height="11" fill="#c0c0c0"/>
<rect x="422" y="535" width="1" height="13" fill="#c0c0c0"/>
<rect x="426" y="535" width="1" height="14" fill="#c0c0c0"/>
<rect x="430" y="535" width="1" height="13" fill="#c0c0c0"/>
<rect x="434" y="535" width="1" height="14" fill="#c0c0c0"/>
<rect x="438" y="535" width="1" height="13" fill="#c0c0c0"/>
<rect x="442" y="535" width="1" height="12" fill="#c0c0c0"/>
<rect x="446" y="535" width="1" height="11" fill="#c0c0c0"/>
<rect x="450" y="535" width="1" height="12" fill="#c0c0c0"/>
<rect x="454" y="535" width="1" height="14" fill="#c0c0c0"/>
<rect x="458" y="535" width="1" height="17" fill="#c0c0c0"/>
<rect x="462" y="535" width="1" height="19" fill="#c0c0c0"/>
<rect x="466" y="535" width="1" height="21" fill="#c0c0c0"/>
<rect x="470" y="535" width="1" height="19" fill="#c0c0c0"/>
<rect x="474" y="535" width="1" height="17" fill="#c0c0c0"/>
<rect x="478" y="535" width="1" height="19" fill="#c0c0c0"/>
<rect x="482" y="535" width="1" height="23" fill="#c0c0c0"/>
<rect x="486" y="535" width="1" height="24" fill="#c0c0c0"/>
<rect x="490" y="535" width="1" height="25" fill="#c0c0c0"/>
<rect x="494" y="535" width="1" height="30" fill="#c0c0c0"/>
<rect x="498" y="535" width="1" height="36" fill="#c0c0c0"/>
<rect x="502" y="535" width="1" height="38" fill="#c0c0c0"/>
<rect x="506" y="535" width="1" height="35" fill="#c0c0c0"/>
<rect x="510" y="535" width="1" height="32" fill="#c0c0c0"/>
<rect x="514" y="535" width="1" height="31" fill="#c0c0c0"/>
<rect x="518" y="535" width="1" height="31" fill="#c0c0c0"/>
<rect x="522" y="535" width="1" height="29" fill="#c0c0c0"/>
<rect x="526" y="535" width="1" height="28" fill="#c0c0c0"/>
<rect x="530" y="535" width="1" height="28" fill="#c0c0c0"/>
<rect x="534" y="535" width="1" height="26" fill="#c0c0c0"/>
<rect x="538" y="535" width="1" height="25" fill="#c0c0c0"/>
<rect x="542" y="535" width="1" height="23" fill="#c0c0c0"/>
<rect x="546" y="535" width="1" height="22" fill="#c0c0c0"/>
<rect x="550" y="535" width="1" height="18" fill="#c0c0c0"/>
<rect x="554" y="535" width="1" height="16" fill="#c0c0c0"/>
<rect x="558" y="535" width="1" height="15" fill="#c0c0c0"/>
<rect x="562" y="535" width="1" height="14" fill="#c0c0c0"/>
<rect x="566" y="535" width="1" height="15" fill="#c0c0c0"/>
<rect x="570" y="535" width="1" height="13" fill="#c0c0c0"/>
<rect x="574" y="535" width="1" height="12" fill="#c0c0c0"/>
<rect x="578" y="535" width="1" height="17" fill="#c0c0c0"/>
<rect x="582" y="535" width="1" height="17" fill="#c0c0c0"/>
<rect x="586" y="535" width="1" height="18" fill="#c0c0c0"/>
<rect x="590" y="535" width="1" height="18" fill="#c0c0c0"/>
<rect x="594" y="535" width="1" height="21" fill="#c0c0c0"/>
<rect x="598" y="535" width="1" height="26" fill="#c0c0c0"/>
<rect x="602" y="535" width="1" height="32" fill="#c0c0c0"/>
<polyline points="2,520.5 10,525 15,529 21,533.5 27,536 34,536 40,534 46,528.5 51,523.5 56,517.5 60,512 65,505.5 70,501.5 75,500.5 80,500.5 85,501.5 90,504 95,506.5 101,510 107,511.5 113,510.5 119,508.5 125,505.5 131,504 137,503.5 143,505.5 149,508.5 155,514 161,519.5 167,525 173,529.5 179,533 185,535.5 191,536.5 197,537.5 203,537 209,534.5 215,531.5 221,529.5 227,529 233,528.5 239,529.5 245,531.5 251,533.5 257,535 264,535.5 270,534.5 276,533.5 282,532.5 288,530.5 293,528 299,526 305,524.5 311,522 317,519.5 323,519.5 329,520 335,521.5 341,524 347,528 353,531 359,533.5 365,537 371,540 377,542.5 383,543.5 389,544.5 395,544.5 401,545 407,545.5 413,544.5 419,544.5 425,546 431,547.5 437,547.5 443,546.5 449,546.5 455,546.5 461,547.5 467,548.5 473,549.5 479,550.5 485,552 491,553.5 497,556.5 503,559.5 509,561.5 515,563.5 521,565 527,565.5 533,564.5 539,562.5 545,560.5 551,558 557,555.5 563,553.5 569,551.5 575,549.5 581,548.5 587,548.5 593,549 599,550.5 602,551.5" fill="none" stroke="#ff0000" stroke-width="1" stroke-dasharray="3 3" shape-rendering="crispEdges"/>
<g>
<text class="w" x="754" y="9" fill="#fff" textLength="31" lengthAdjust="spacingAndGlyphs">1.20225</text>
<text class="w" x="754" y="41" fill="#fff" textLength="31" lengthAdjust="spacingAndGlyphs">1.20070</text>
<text class="w" x="754" y="73" fill="#fff" textLength="31" lengthAdjust="spacingAndGlyphs">1.19915</text>
<text class="w" x="754" y="105" fill="#fff" textLength="31" lengthAdjust="spacingAndGlyphs">1.19760</text>
<text class="w" x="754" y="137" fill="#fff" textLength="31" lengthAdjust="spacingAndGlyphs">1.19605</text>
<text class="w" x="754" y="169" fill="#fff" textLength="31" lengthAdjust="spacingAndGlyphs">1.19450</text>
<text class="w" x="754" y="201" fill="#fff" textLength="31" lengthAdjust="spacingAndGlyphs">1.19295</text>
<text class="w" x="754" y="233" fill="#fff" textLength="31" lengthAdjust="spacingAndGlyphs">1.19140</text>
<text class="w" x="754" y="265" fill="#fff" textLength="31" lengthAdjust="spacingAndGlyphs">1.18985</text>
<text class="w" x="754" y="296" fill="#fff" textLength="31" lengthAdjust="spacingAndGlyphs">1.18830</text>
<text class="w" x="754" y="328" fill="#fff" textLength="31" lengthAdjust="spacingAndGlyphs">1.18675</text>
<text class="w" x="754" y="360" fill="#fff" textLength="31" lengthAdjust="spacingAndGlyphs">1.18520</text>
<text class="w" x="754" y="392" fill="#fff" textLength="31" lengthAdjust="spacingAndGlyphs">1.18365</text>
<text class="w" x="754" y="424" fill="#fff" textLength="31" lengthAdjust="spacingAndGlyphs">1.18210</text>
<text class="w" x="754" y="456" fill="#fff" textLength="31" lengthAdjust="spacingAndGlyphs">1.18055</text>
<rect x="750" y="10" width="39" height="11" fill="#ff0000"/>
<rect x="750" y="62" width="39" height="11" fill="#ff0000"/>
<rect x="750" y="99" width="39" height="11" fill="#ff0000"/>
<rect x="750" y="136" width="39" height="11" fill="#ff0000"/>
<rect x="750" y="176" width="39" height="11" fill="#ff0000"/>
<rect x="750" y="216" width="39" height="11" fill="#ff0000"/>
<rect x="750" y="265" width="39" height="11" fill="#ff0000"/>
<rect x="750" y="300" width="39" height="11" fill="#ff0000"/>
<rect x="750" y="347" width="39" height="11" fill="#00ffff"/>
<rect x="750" y="386" width="39" height="11" fill="#00ffff"/>
<rect x="750" y="427" width="39" height="11" fill="#00ffff"/>
<rect x="750" y="465" width="39" height="11" fill="#00ffff"/>
<rect x="750" y="323" width="39" height="11" fill="#778899"/>
<text class="k" x="754" y="19" fill="#000" textLength="31" lengthAdjust="spacingAndGlyphs">1.20175</text>
<text class="k" x="754" y="71" fill="#000" textLength="31" lengthAdjust="spacingAndGlyphs">1.19925</text>
<text class="k" x="754" y="108" fill="#000" textLength="31" lengthAdjust="spacingAndGlyphs">1.19745</text>
<text class="k" x="754" y="145" fill="#000" textLength="31" lengthAdjust="spacingAndGlyphs">1.19565</text>
<text class="k" x="754" y="185" fill="#000" textLength="31" lengthAdjust="spacingAndGlyphs">1.19372</text>
<text class="k" x="754" y="225" fill="#000" textLength="31" lengthAdjust="spacingAndGlyphs">1.19179</text>
<text class="k" x="754" y="274" fill="#000" textLength="31" lengthAdjust="spacingAndGlyphs">1.18941</text>
<text class="k" x="754" y="309" fill="#000" textLength="31" lengthAdjust="spacingAndGlyphs">1.18767</text>
<text class="k" x="754" y="356" fill="#000" textLength="31" lengthAdjust="spacingAndGlyphs">1.18540</text>
<text class="k" x="754" y="395" fill="#000" textLength="31" lengthAdjust="spacingAndGlyphs">1.18353</text>
<text class="k" x="754" y="436" fill="#000" textLength="31" lengthAdjust="spacingAndGlyphs">1.18150</text>
<text class="k" x="754" y="474" fill="#000" textLength="31" lengthAdjust="spacingAndGlyphs">1.17967</text>
<text class="k" x="754" y="332" fill="#000" textLength="31" lengthAdjust="spacingAndGlyphs">1.18656</text>
<text class="w" x="753" y="495" fill="#fff" textLength="38" lengthAdjust="spacingAndGlyphs">0.001264</text>
<text class="w" x="753" y="538" fill="#fff" textLength="37" lengthAdjust="spacingAndGlyphs">0.000000</text>
<text class="w" x="753" y="577" fill="#fff" textLength="40" lengthAdjust="spacingAndGlyphs">-0.001151</text>
<text class="w" x="2" y="592" fill="#fff" textLength="49" lengthAdjust="spacingAndGlyphs">22 Jun 2021</text>
<text class="w" x="66" y="592" fill="#fff" textLength="52" lengthAdjust="spacingAndGlyphs">23 Jun 00:00</text>
<text class="w" x="130" y="592" fill="#fff" textLength="52" lengthAdjust="spacingAndGlyphs">23 Jun 16:00</text>
<text class="w" x="194" y="592" fill="#fff" textLength="52" lengthAdjust="spacingAndGlyphs">24 Jun 08:00</text>
<text class="w" x="258" y="592" fill="#fff" textLength="52" lengthAdjust="spacingAndGlyphs">25 Jun 00:00</text>
<text class="w" x="322" y="592" fill="#fff" textLength="52" lengthAdjust="spacingAndGlyphs">25 Jun 16:00</text>
<text class="w" x="386" y="592" fill="#fff" textLength="52" lengthAdjust="spacingAndGlyphs">28 Jun 08:00</text>
<text class="w" x="450" y="592" fill="#fff" textLength="52" lengthAdjust="spacingAndGlyphs">29 Jun 00:00</text>
<text class="w" x="514" y="592" fill="#fff" textLength="52" lengthAdjust="spacingAndGlyphs">29 Jun 16:00</text>
<text class="w" x="578" y="592" fill="#fff" textLength="52" lengthAdjust="spacingAndGlyphs">30 Jun 08:00</text>
<text class="w" x="7" y="13" fill="#fff" textLength="220" lengthAdjust="spacingAndGlyphs">EURUSD.c, H1:  Euro vs US Dollar Forward contract</text>
<text class="w" x="6" y="499" fill="#fff" textLength="153" lengthAdjust="spacingAndGlyphs">MACD(12,26,9) -0.000776 -0.000451</text>
<text class="big" x="302" y="96" fill="#fff">(iv)</text>
<text class="big" x="652" y="399" fill="#fff">(v)</text>
</g>
</svg>
</body></html>
